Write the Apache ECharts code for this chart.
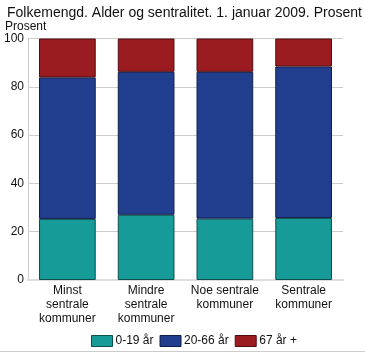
<!DOCTYPE html>
<html><head><meta charset="utf-8">
<script src="https://cdn.jsdelivr.net/npm/echarts@6/dist/echarts.min.js"></script>
<style>html,body{margin:0;padding:0;background:#fff}#c{width:365px;height:353px}</style>
</head><body><div id="c"></div>
<script>
const categories = ['Minst\nsentrale\nkommuner', 'Mindre\nsentrale\nkommuner', 'Noe sentrale\nkommuner', 'Sentrale\nkommuner'];
const age0_19 = [25.3, 27.0, 25.4, 25.7];
const age20_66 = [58.6, 59.2, 60.8, 62.7];
const age67 = [16.1, 13.8, 13.8, 11.6];
const seriesNames = ['0-19 år', '20-66 år', '67 år +'];
const colors = ['#169b98', '#213e8f', '#9b1c20'];
const borders = ['#0d4f4d', '#101f4a', '#4e0e10'];

const chart = echarts.init(document.getElementById('c'), null, {renderer: 'canvas'});
const font = 'Liberation Sans, Arial, sans-serif';
const data = [age0_19, age20_66, age67];
chart.setOption({
  animation: false,
  textStyle: {fontFamily: font},
  title: {text: 'Folkemengd. Alder og sentralitet. 1. januar 2009. Prosent', left: 2, top: 1,
    textStyle: {fontSize: 14, fontWeight: 'normal', color: '#111', fontFamily: font}},
  graphic: [{type: 'line', shape: {x1: 0, y1: 351.5, x2: 365, y2: 351.5}, style: {stroke: '#ccc', lineWidth: 1}}],
  grid: {left: 28, right: 22, top: 38.5, bottom: 73, containLabel: false},
  legend: {top: 335, left: 91, padding: 0, itemWidth: 21, itemHeight: 11, itemGap: 6, icon: 'rect',
    textStyle: {fontSize: 12, color: '#111', fontFamily: font, padding: [0,0,0,-2]},
    data: seriesNames.map((n,i)=>({name:n, itemStyle:{borderColor: borders[i], borderWidth: 1}}))},
  xAxis: {type: 'category', data: categories,
    axisLine: {show: true, lineStyle: {color: '#ddd', width: 2}},
    axisTick: {show: false},
    axisLabel: {fontSize: 12, color: '#111', lineHeight: 14, margin: 4, interval: 0, fontFamily: font}},
  yAxis: {type: 'value', min: 0, max: 100, interval: 20, name: 'Prosent',
    nameLocation: 'end', nameGap: 1,
    nameTextStyle: {fontSize: 12, color: '#111', align: 'left', verticalAlign: 'bottom', padding: [0,0,-3,-23], fontFamily: font},
    axisLine: {show: true, lineStyle: {color: '#ccc'}},
    axisTick: {show: false},
    splitLine: {lineStyle: {color: '#ccc'}},
    axisLabel: {fontSize: 12, color: '#111', margin: 4, fontFamily: font}},
  series: seriesNames.map((n,i)=>({name: n, type: 'bar', stack: 'a', data: data[i], barWidth: '72%',
    itemStyle: {color: colors[i], borderColor: borders[i], borderWidth: 1}}))
});
</script></body></html>
